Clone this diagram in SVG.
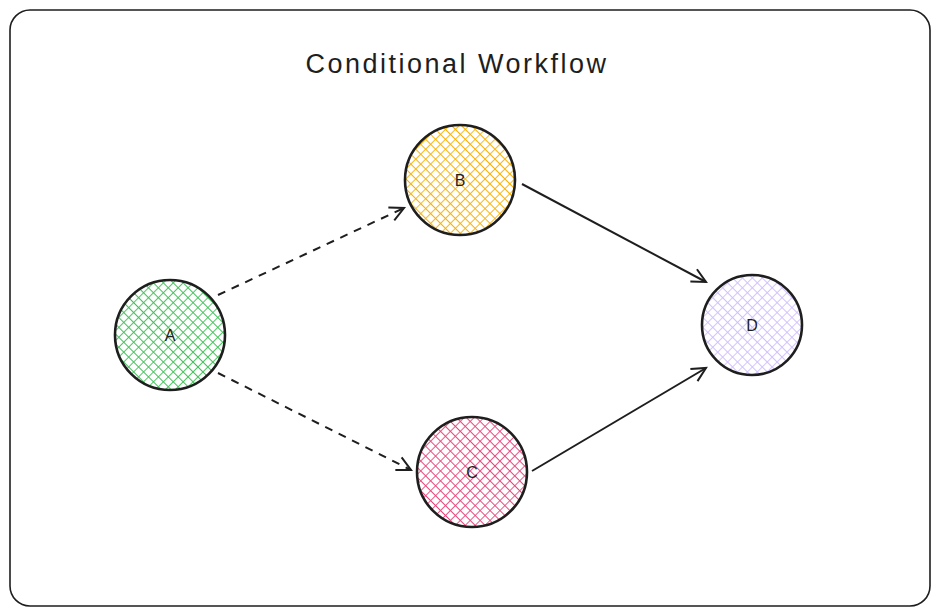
<svg xmlns="http://www.w3.org/2000/svg" width="939" height="615" viewBox="0 0 939 615">
<style>
.n{stroke:#1e1e1e;stroke-width:2.6}
.t{font-family:"Liberation Sans",sans-serif;font-size:16px;fill:#1e1e1e;text-anchor:middle;dominant-baseline:central}
.e{stroke:#1e1e1e;stroke-width:2;fill:none}
.d{stroke-dasharray:8 7}
</style>
<defs>
<pattern id="pg" width="7" height="7" patternUnits="userSpaceOnUse" patternTransform="rotate(45)"><path d="M0 0V7M0 0H7" stroke="#40c057" stroke-width="1.8"/></pattern>
<pattern id="po" width="7" height="7" patternUnits="userSpaceOnUse" patternTransform="rotate(45)"><path d="M0 0V7M0 0H7" stroke="#fab005" stroke-width="1.8"/></pattern>
<pattern id="pr" width="7" height="7" patternUnits="userSpaceOnUse" patternTransform="rotate(45)"><path d="M0 0V7M0 0H7" stroke="#e64980" stroke-width="1.8"/></pattern>
<pattern id="pp" width="7" height="7" patternUnits="userSpaceOnUse" patternTransform="rotate(45)"><path d="M0 0V7M0 0H7" stroke="#d0bfff" stroke-width="1.8"/></pattern>
<marker id="a" markerWidth="20" markerHeight="20" refX="16" refY="10" orient="auto" markerUnits="userSpaceOnUse"><path d="M2 3L16 10L2 17" fill="none" stroke="#1e1e1e" stroke-width="2"/></marker>
</defs>
<rect x="10" y="10" width="920" height="596" rx="20" fill="#fff" stroke="#1e1e1e" stroke-width="1.6"/>
<text x="457" y="64" font-family="Liberation Sans,sans-serif" font-size="27" fill="#1e1e1e" text-anchor="middle" dominant-baseline="central" letter-spacing="2.5">Conditional Workflow</text>
<g id="connectors">
<line class="e d" x1="218" y1="295" x2="404" y2="208" marker-end="url(#a)"/>
<line class="e d" x1="218" y1="373" x2="411" y2="470" marker-end="url(#a)"/>
<line class="e" x1="522" y1="184" x2="706" y2="282" marker-end="url(#a)"/>
<line class="e" x1="532" y1="471" x2="706" y2="368" marker-end="url(#a)"/>
</g>
<g id="A"><circle class="n" cx="170" cy="335" r="55" fill="url(#pg)"/><text class="t" x="170" y="335">A</text></g>
<g id="B"><circle class="n" cx="460" cy="180" r="55" fill="url(#po)"/><text class="t" x="460" y="180">B</text></g>
<g id="C"><circle class="n" cx="472" cy="472" r="55" fill="url(#pr)"/><text class="t" x="472" y="472">C</text></g>
<g id="D"><circle class="n" cx="752" cy="325" r="50" fill="url(#pp)"/><text class="t" x="752" y="325">D</text></g>
</svg>
